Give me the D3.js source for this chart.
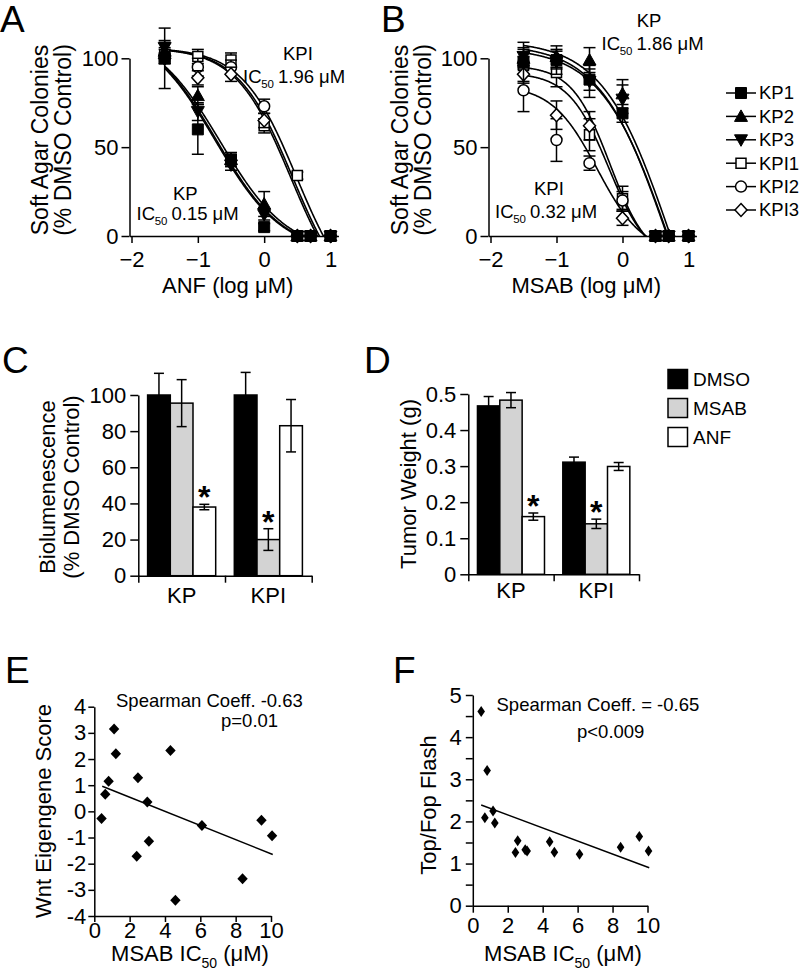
<!DOCTYPE html>
<html><head><meta charset="utf-8">
<script src="https://cdn.jsdelivr.net/npm/d3@7"></script>
<style>
body{margin:0;background:#fff;}
svg{display:block;font-family:"Liberation Sans",Arial,Helvetica,sans-serif;}
</style></head><body>
<svg id="c" width="800" height="973"></svg>
<script>
// ---------- DATA ----------
const doseLog = [-1.5, -1, -0.5, 0, 0.5, 0.7, 1];
const lineNames = ["KP1", "KP2", "KP3", "KPI1", "KPI2", "KPI3"];

const anfMeans = [
  [100, 60, 43, 5, 0, 0, 0],
  [104, 79, 43, 18, 0, 0, 0],
  [106, 70, 40, 12, 0, 0, 0],
  [102, 101, 99, 62, 34, 0, 0],
  [101, 95, 95, 73, 0, 0, 0],
  [100, 89, 91, 65, 0, 0, 0]];
const anfErr = [
  [17, 14, 4, 2, 0, 0, 0],
  [5, 5, 3, 7, 0, 0, 0],
  [4, 5, 3, 3, 0, 0, 0],
  [4, 4, 4, 4, 2, 0, 0],
  [4, 5, 4, 4, 0, 0, 0],
  [3, 4, 4, 4, 0, 0, 0]];
// fitted dose-response curve parameters (top, bottom, midpoint, hill)
const anfTop = [118, 116, 118, 106, 106, 106];
const anfBottom = [-10, -10, -10, -40, -40, -40];
const anfMid = [-0.74, -0.66, -0.72, 0.49, 0.43, 0.40];
const anfHill = [0.85, 0.85, 0.85, 1.05, 1.05, 1.05];

const msabMeans = [
  [98, 99, 88, 69, 0, 0, 0],
  [100, 101, 99, 80, 0, 0, 0],
  [101, 98, 87, 77, 0, 0, 0],
  [96, 92, 57, 21, 0, 0, 0],
  [82, 54, 41, 20, 0, 0, 0],
  [91, 68, 62, 10, 0, 0, 0]];
const msabErr = [
  [11, 5, 6, 5, 0, 0, 0],
  [5, 6, 7, 8, 0, 0, 0],
  [5, 7, 9, 8, 0, 0, 0],
  [5, 8, 9, 7, 0, 0, 0],
  [12, 12, 4, 5, 0, 0, 0],
  [5, 8, 8, 4, 0, 0, 0]];
const msabTop = [106, 110, 108, 96, 85, 92];
const msabBottom = [-108, -108, -108, -15, -10, -15];
const msabMid = [0.70, 0.72, 0.68, -0.19, -0.38, -0.21];
const msabHill = [0.85, 0.85, 0.85, 1.5, 1.26, 1.43];

const barGroups = ["KP", "KPI"];
const treatments = ["DMSO", "MSAB", "ANF"];
const biolumMeans = [[100, 95.5, 38], [100, 20, 83]];
const biolumErr = [[12, 13, 1.5], [12.5, 6, 14.5]];
const tumorMeans = [[0.467, 0.483, 0.16], [0.311, 0.14, 0.299]];
const tumorErr = [[0.026, 0.021, 0.01], [0.014, 0.013, 0.011]];
const biolumSig = [[false, false, true], [false, true, false]];
const tumorSig = [[false, false, true], [false, true, false]];

const eIC50 = [0.41, 0.62, 0.81, 1.12, 1.22, 2.40, 2.47, 3.0, 3.09, 4.31, 4.59, 6.09, 8.39, 9.46, 10.06];
const eScore = [-0.27, 0.65, 1.15, 3.15, 2.2, -1.72, 1.28, 0.36, -1.14, 2.33, -3.4, -0.54, -2.58, -0.34, -0.93];
const eFitX = [0.45, 10.1];
const eFitY = [0.96, -1.65];

const fIC50 = [0.48, 0.69, 0.82, 1.16, 1.26, 2.44, 2.57, 3.0, 3.11, 4.4, 4.67, 6.11, 8.46, 9.53, 10.06];
const fTopFop = [4.61, 2.09, 3.21, 2.25, 1.96, 1.26, 1.54, 1.33, 1.30, 1.52, 1.27, 1.22, 1.39, 1.64, 1.30];
const fFitX = [0.48, 10.1];
const fFitY = [2.39, 0.90];

// ---------- DRAWING ----------
const FONT = '"Liberation Sans", Arial, Helvetica, sans-serif';
const svg = d3.select("#c");
const SW = 1.5;

function styleAxis(g, size) {
  g.selectAll("path,line").attr("stroke", "#000").attr("stroke-width", SW);
  g.selectAll("text").attr("font-size", size).attr("font-family", FONT).attr("fill", "#000");
}
function label(t, x, y, size, opts = {}) {
  const el = svg.append("text").attr("x", x).attr("y", y).attr("font-size", size)
    .attr("font-family", FONT).attr("fill", "#000").text(t);
  if (opts.anchor) el.attr("text-anchor", opts.anchor);
  if (opts.weight) el.attr("font-weight", opts.weight);
  return el;
}
function rotTitle(lines, cx, cy, size, gap) {
  lines.forEach((t, i) => {
    svg.append("text").attr("transform", `translate(${cx + i * gap},${cy}) rotate(-90)`)
      .attr("text-anchor", "middle").attr("dominant-baseline", "central")
      .attr("font-size", size).attr("font-family", FONT).attr("fill", "#000").text(t);
  });
}
function icLabel(x, y, rest, size) {
  const t = svg.append("text").attr("y", y).attr("font-size", size).attr("font-family", FONT).attr("fill", "#000");
  t.append("tspan").attr("x", x).text("IC");
  t.append("tspan").attr("x", x + size * 0.98).attr("dy", 5).attr("font-size", size * 0.62).text("50");
  t.append("tspan").attr("x", x + size * 0.98 + size * 0.62 * 1.12 + 4).attr("dy", -5).text(rest);
}

// Panel letters
[["A", 0, 32], ["B", 381, 32], ["C", 2, 373], ["D", 364, 373], ["E", 5, 683], ["F", 393, 683]]
  .forEach(d => label(d[0], d[1], d[2], 37));

// marker shapes
const markerPaths = {
  sq: "M-5.5,-5.5h11v11h-11Z",
  tu: "M0,-6.5L6.5,5L-6.5,5Z",
  td: "M0,6.5L6.5,-5L-6.5,-5Z",
  osq: "M-5,-5h10v10h-10Z",
  od: "M0,-6.5L6,0L0,6.5L-6,0Z"
};
const markerTypes = ["sq", "tu", "td", "osq", "oc", "od"];
function drawMarker(g, type, cx, cy) {
  const filled = ["sq", "tu", "td"].includes(type);
  if (type === "oc") {
    g.append("circle").attr("cx", cx).attr("cy", cy).attr("r", 5.5)
      .attr("fill", "#fff").attr("stroke", "#000").attr("stroke-width", SW);
  } else {
    g.append("path").attr("d", markerPaths[type]).attr("transform", `translate(${cx},${cy})`)
      .attr("fill", filled ? "#000" : "#fff").attr("stroke", "#000").attr("stroke-width", filled ? 1 : SW);
  }
}

function doseResponse(opt) {
  const x = d3.scaleLinear().domain([-2, 1]).range(opt.xr);
  const y = d3.scaleLinear().domain([0, 100]).range([236, 58.3]);
  const g = svg.append("g");
  const clipId = "clip" + opt.id;
  svg.append("clipPath").attr("id", clipId).append("rect")
    .attr("x", opt.xr[0] - 10).attr("y", 0).attr("width", 300).attr("height", y(0));
  // curves
  const lineGen = d3.line().x(d => x(d[0])).y(d => y(d[1]));
  const cg = g.append("g").attr("clip-path", `url(#${clipId})`);
  lineNames.forEach((n, i) => {
    const pts = d3.range(-1.5, 1.0001, 0.01).map(v =>
      [v, opt.bottom[i] + (opt.top[i] - opt.bottom[i]) / (1 + Math.pow(10, (v - opt.mid[i]) * opt.hill[i]))]);
    cg.append("path").attr("d", lineGen(pts)).attr("fill", "none")
      .attr("stroke", "#000").attr("stroke-width", 1.6);
  });
  // axes
  const ya = g.append("g").attr("transform", `translate(${x(-2) - 2},0)`)
    .call(d3.axisLeft(y).tickValues([0, 50, 100]).tickSize(8).tickSizeOuter(0).tickPadding(3));
  styleAxis(ya, 22);
  const xa = g.append("g").attr("transform", `translate(0,${y(0)})`)
    .call(d3.axisBottom(d3.scaleLinear().domain([-2.03, 1.12]).range([x(-2.03), x(1.12)]))
      .tickValues([-2, -1, 0, 1]).tickSize(7).tickSizeOuter(0).tickPadding(8).tickFormat(d3.format("d")));
  styleAxis(xa, 22);
  // error bars + markers: open (KPI) first, filled (KP) on top
  const order = [3, 4, 5, 0, 1, 2];
  order.forEach(i => {
    doseLog.forEach((dx, j) => {
      const m = opt.means[i][j], e = opt.err[i][j];
      if (e > 0) {
        const cx = x(dx);
        g.append("line").attr("x1", cx).attr("x2", cx).attr("y1", y(m - e)).attr("y2", y(m + e))
          .attr("stroke", "#000").attr("stroke-width", SW);
        [m - e, m + e].forEach(v => g.append("line").attr("x1", cx - 6).attr("x2", cx + 6)
          .attr("y1", y(v)).attr("y2", y(v)).attr("stroke", "#000").attr("stroke-width", SW));
      }
    });
    doseLog.forEach((dx, j) => drawMarker(g, markerTypes[i], x(dx), y(opt.means[i][j])));
  });
  return x;
}

// Panel A
const xA = doseResponse({ id: "A", xr: [131.5, 330.5], means: anfMeans, err: anfErr,
  top: anfTop, bottom: anfBottom, mid: anfMid, hill: anfHill });
rotTitle(["Soft Agar Colonies", "(% DMSO Control)"], 40, 140, 23, 23);
label("ANF (log \u03bcM)", xA(-0.55), 293, 22, { anchor: "middle" });
label("KPI", 283, 60, 18.5);
icLabel(243, 83, "1.96 \u03bcM", 18.5);
label("KP", 173, 200, 18.5);
icLabel(136.5, 220, "0.15 \u03bcM", 18.5);

// Panel B
const xB = doseResponse({ id: "B", xr: [490.5, 688.5], means: msabMeans, err: msabErr,
  top: msabTop, bottom: msabBottom, mid: msabMid, hill: msabHill });
rotTitle(["Soft Agar Colonies", "(% DMSO Control)"], 400, 140, 23, 23);
label("MSAB (log \u03bcM)", xB(-0.55), 293, 22, { anchor: "middle" });
label("KP", 649, 27, 18.5, { anchor: "middle" });
icLabel(601.5, 50, "1.86 \u03bcM", 18.5);
label("KPI", 534, 195, 18.5);
icLabel(495, 218, "0.32 \u03bcM", 18.5);

// Legend A/B
const lg = svg.append("g");
lineNames.forEach((n, i) => {
  const yy = 93 + i * 23.4;
  lg.append("line").attr("x1", 726).attr("x2", 756).attr("y1", yy).attr("y2", yy)
    .attr("stroke", "#000").attr("stroke-width", SW);
  drawMarker(lg, markerTypes[i], 741, yy);
  lg.append("text").attr("x", 759).attr("y", yy).attr("dy", "0.35em").attr("font-size", 18.5)
    .attr("font-family", FONT).text(n);
});

// Bar panels
const barFill = ["#000", "#d3d3d3", "#fff"];
function barPanel(opt) {
  const g = svg.append("g");
  const xg = d3.scaleBand().domain(barGroups).range(opt.xr).paddingInner(0).paddingOuter(0);
  const xi = d3.scaleBand().domain(treatments).range([0, xg.bandwidth()]).paddingInner(0).paddingOuter(0.41);
  const y = d3.scaleLinear().domain(opt.ydom).range(opt.yr);
  barGroups.forEach((gname, gi) => {
    treatments.forEach((t, ti) => {
      const m = opt.means[gi][ti], e = opt.err[gi][ti];
      const bx = xg(gname) + xi(t), bw = xi.bandwidth();
      g.append("rect").attr("x", bx).attr("y", y(m)).attr("width", bw).attr("height", y(0) - y(m))
        .attr("fill", barFill[ti]).attr("stroke", "#000").attr("stroke-width", SW);
      const cx = bx + bw / 2;
      g.append("line").attr("x1", cx).attr("x2", cx).attr("y1", y(m - e)).attr("y2", y(m + e))
        .attr("stroke", "#000").attr("stroke-width", SW);
      [m - e, m + e].forEach(v => g.append("line").attr("x1", cx - 5).attr("x2", cx + 5)
        .attr("y1", y(v)).attr("y2", y(v)).attr("stroke", "#000").attr("stroke-width", SW));
      if (opt.sig[gi][ti]) {
        g.append("text").attr("x", cx).attr("y", y(m + e) + 4).attr("text-anchor", "middle")
          .attr("font-size", 32).attr("font-weight", "bold").attr("font-family", FONT).text("*");
      }
    });
  });
  const ya = g.append("g").attr("transform", `translate(${opt.xr[0]},0)`)
    .call(d3.axisLeft(y).tickValues(opt.ticks).tickSize(8).tickSizeOuter(0).tickPadding(4).tickFormat(opt.fmt));
  styleAxis(ya, 22);
  const xa = g.append("g").attr("transform", `translate(0,${y(0)})`)
    .call(d3.axisBottom(d3.scaleLinear().domain([0, 2]).range(opt.xr)).tickValues([0, 1, 2])
      .tickSize(7).tickSizeOuter(0).tickFormat(""));
  styleAxis(xa, 22);
  barGroups.forEach(gname => label(gname, xg(gname) + xg.bandwidth() / 2, opt.labY, 22, { anchor: "middle" }));
}
barPanel({ xr: [138.3, 311.7], yr: [575.7, 395], ydom: [0, 100], ticks: [0, 20, 40, 60, 80, 100],
  fmt: d3.format("d"), means: biolumMeans, err: biolumErr, sig: biolumSig, labY: 603 });
rotTitle(["Biolumenescence", "(% DMSO Control)"], 47, 487, 22, 24);

barPanel({ xr: [468.3, 639], yr: [574.3, 394], ydom: [0, 0.5], ticks: [0, 0.1, 0.2, 0.3, 0.4, 0.5],
  fmt: d => d === 0 ? "0" : d3.format(".1f")(d), means: tumorMeans, err: tumorErr, sig: tumorSig, labY: 598 });
rotTitle(["Tumor Weight (g)"], 408, 484, 22, 0);

// Legend D
treatments.forEach((t, i) => {
  const yy = 369.5 + i * 29;
  svg.append("rect").attr("x", 668).attr("y", yy).attr("width", 19.5).attr("height", 19)
    .attr("fill", barFill[i]).attr("stroke", "#000").attr("stroke-width", SW);
  label(t, 693, yy + 16.5, 19);
});

// Scatter panels
function scatter(opt) {
  const g = svg.append("g");
  const x = d3.scaleLinear().domain([0, 10]).range(opt.xr);
  const y = d3.scaleLinear().domain(opt.ydom).range(opt.yr);
  const ya = g.append("g").attr("transform", `translate(${opt.xr[0]},0)`)
    .call(d3.axisLeft(y).tickValues(opt.yticks).tickSize(opt.tick).tickSizeOuter(0).tickPadding(opt.ypad)
      .tickFormat(d => Number.isInteger(d) ? String(d) : ""));
  styleAxis(ya, 22);
  const xa = g.append("g").attr("transform", `translate(0,${opt.yr[0]})`)
    .call(d3.axisBottom(x).tickValues([0, 2, 4, 6, 8, 10]).tickSize(opt.tick).tickSizeOuter(0).tickPadding(opt.xpad));
  styleAxis(xa, 22);
  g.append("line").attr("x1", x(opt.fx[0])).attr("x2", x(opt.fx[1]))
    .attr("y1", y(opt.fy[0])).attr("y2", y(opt.fy[1])).attr("stroke", "#000").attr("stroke-width", SW);
  opt.xs.forEach((v, i) => {
    g.append("path").attr("d", opt.shape).attr("transform", `translate(${x(v)},${y(opt.ys[i])})`).attr("fill", "#000");
  });
  const t = svg.append("text").attr("x", opt.titleX).attr("y", 961).attr("text-anchor", "middle")
    .attr("font-size", 22).attr("font-family", FONT).attr("fill", "#000");
  t.append("tspan").text("MSAB IC");
  t.append("tspan").attr("dy", 7).attr("font-size", 14).text("50");
  t.append("tspan").attr("dy", -7).text(" (\u03bcM)");
}
scatter({ xr: [94.3, 271], yr: [916, 706.7], ydom: [-4, 4], yticks: d3.range(-4, 5, 1), tick: 6, ypad: 2, xpad: 0,
  fx: eFitX, fy: eFitY, xs: eIC50, ys: eScore, shape: "M0,-5.5L5.2,0L0,5.5L-5.2,0Z", titleX: 190 });
rotTitle(["Wnt Eigengene Score"], 43, 811, 22, 0);
label("Spearman Coeff. -0.63", 116, 706.5, 18.5);
label("p=0.01", 221, 727, 18.5);

scatter({ xr: [472.8, 647.5], yr: [905.7, 695], ydom: [0, 5], yticks: d3.range(0, 5.01, 0.5), tick: 7, ypad: 4, xpad: 5,
  fx: fFitX, fy: fFitY, xs: fIC50, ys: fTopFop, shape: "M0,-5.5L3.8,0L0,5.5L-3.8,0Z", titleX: 563 });
rotTitle(["Top/Fop Flash"], 428, 805, 22, 0);
label("Spearman Coeff. = -0.65", 496.5, 711, 18.5);
label("p<0.009", 577, 737.5, 18.5);
</script>
</body></html>
